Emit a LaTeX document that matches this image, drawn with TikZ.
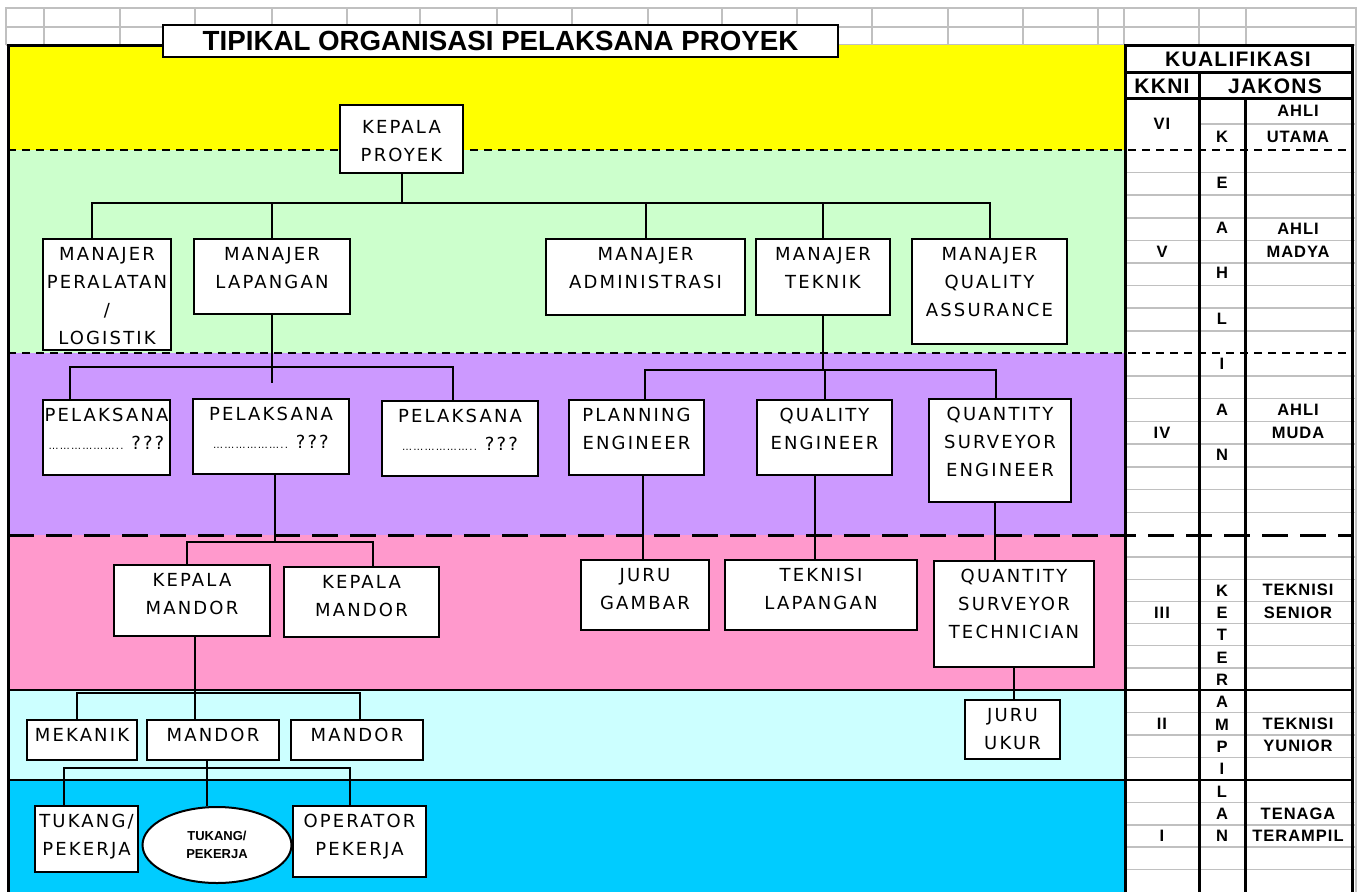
\documentclass[tikz,border=0pt]{standalone}
\usepackage{fontspec}
\setmainfont{DejaVu Sans}
\newfontfamily\orgfont[LetterSpace=12]{DejaVu Sans}
\newfontfamily\headfont{Liberation Sans}
\newfontfamily\tabfont[LetterSpace=6]{Liberation Sans}
\usetikzlibrary{shapes.geometric, calc}
\definecolor{bandyellow}{HTML}{FFFF00}
\definecolor{bandgreen}{HTML}{CCFFCC}
\definecolor{bandpurple}{HTML}{CC99FF}
\definecolor{bandpink}{HTML}{FF99CC}
\definecolor{bandcyan}{HTML}{CCFFFF}
\definecolor{bandblue}{HTML}{00CCFF}
\definecolor{gridgray}{HTML}{C0C0C0}
% box text: width, height, optional first baseline
\newcommand{\orgtext}[4][21]{\parbox[c][#3pt][t]{#2pt}{\centering\rule{0pt}{#1pt}#4}}
\newcommand{\pelakdots}{{\fontsize{10}{10}\selectfont ………………..}}
\tikzset{
  unit/.style={draw, line width=2pt, fill=white, inner sep=0pt, font=\orgfont\fontsize{18}{28}\selectfont},
  link/.style={line width=2pt},
  gridline/.style={gridgray, line width=1.5pt},
  tabline/.style={line width=3pt},
  levelsep/.style={line width=2pt, dash pattern=on 8pt off 6pt},
  tabtext/.style={font=\tabfont\bfseries\fontsize{16.5}{22.5}\selectfont, align=center, inner sep=0pt},
  tabhead/.style={font=\tabfont\bfseries\fontsize{21}{21}\selectfont, inner sep=0pt},
}

\begin{document}
\begin{tikzpicture}[x=1pt, y=-1pt]
        \useasboundingbox (0,0) rectangle (1360,892);
        % spreadsheet grid
        \foreach \x in {44,120,195,272,347,420,497,572,648,722,797,872,948,1023,1098,1124,1199,1246}
          \draw[gridline] (\x,8) -- (\x,45);
        \draw[gridline] (6,27) -- (1356,27);
        \draw[gridline] (6,45) -- (1356,45);
        \draw[gridline] (6,45) -- (6,8) -- (1356,8) -- (1356,892);
        % level bands
        \fill[bandyellow] (8,45) rectangle (1125,150);
        \fill[bandgreen] (8,150) rectangle (1125,353);
        \fill[bandpurple] (8,353) rectangle (1125,535);
        \fill[bandpink] (8,535) rectangle (1125,690);
        \fill[bandcyan] (8,690) rectangle (1125,780);
        \fill[bandblue] (8,780) rectangle (1125,892);
        % table rows
        \draw[gridline] (1199,124) -- (1356,124);
        \foreach \k in {1,...,8} \draw[gridline] (1125,{150+22.6*\k}) -- (1356,{150+22.6*\k});
        \foreach \k in {1,...,7} \draw[gridline] (1125,{353+22.75*\k}) -- (1356,{353+22.75*\k});
        \foreach \k in {1,...,6} \draw[gridline] (1125,{535+22.14*\k}) -- (1356,{535+22.14*\k});
        \foreach \k in {1,...,3} \draw[gridline] (1125,{690+22.5*\k}) -- (1356,{690+22.5*\k});
        \foreach \k in {1,...,4} \draw[gridline] (1125,{780+22.4*\k}) -- (1356,{780+22.4*\k});
        % level borders
        \draw[levelsep] (8,150) -- (1352,150);
        \draw[levelsep] (8,353) -- (1352,353);
        \draw[line width=3pt, dash pattern=on 26pt off 12pt] (8,535) -- (1352,535);
        \draw[line width=1.5pt] (8,690) -- (1352,690);
        \draw[line width=1.5pt] (8,780) -- (1352,780);
        \draw[tabline] (163,45) -- (8,45) -- (8,892);
        % table frame
        \draw[tabline] (1125,892) -- (1125,45) -- (1352,45) -- (1352,892);
        \draw[tabline] (1125,72) -- (1352,72);
        \draw[tabline] (1125,98) -- (1352,98);
        \draw[tabline] (1199,72) -- (1199,892);
        \draw[tabline] (1245,98) -- (1245,892);
        % table texts
        \node[tabhead] (kualifikasi) at (1238,59) {KUALIFIKASI};
        \node[tabhead] (kkni) at (1162,86) {KKNI};
        \node[tabhead] (jakons) at (1275,86) {JAKONS};
        \foreach \c [count=\i] in {K,E,A,H,L,I,A,N}
          \node[tabtext] (keahlian-\i) at (1222,{137+45.4*(\i-1)}) {\c};
        \foreach \c [count=\i] in {K,E,T,E,R,A,M,P,I,L,A,N}
          \node[tabtext] (keterampilan-\i) at (1222,{590.4+22.33*(\i-1)}) {\c};
        \node[tabtext] (kkni-6) at (1162,124) {VI};
        \node[tabtext] (kkni-5) at (1162,251.7) {V};
        \node[tabtext] (kkni-4) at (1162,432.6) {IV};
        \node[tabtext] (kkni-3) at (1162,612.5) {III};
        \node[tabtext] (kkni-2) at (1162,723.8) {II};
        \node[tabtext] (kkni-1) at (1162,836) {I};
        \node[tabtext] (jakons-6) at (1298,124) {AHLI\\[3pt]UTAMA};
        \node[tabtext] (jakons-5) at (1298,240.4) {AHLI\\MADYA};
        \node[tabtext] (jakons-4) at (1298,421.3) {AHLI\\MUDA};
        \node[tabtext] (jakons-3) at (1298,601.5) {TEKNISI\\SENIOR};
        \node[tabtext] (jakons-2) at (1298,735) {TEKNISI\\YUNIOR};
        \node[tabtext] (jakons-1) at (1298,824.8) {TENAGA\\TERAMPIL};
        % title
        \node[draw, line width=2pt, fill=white, minimum width=675, minimum height=32, inner sep=0pt,
              font=\headfont\bfseries\fontsize{27.7}{28}\selectfont] (judul) at (500.5,41) {TIPIKAL ORGANISASI PELAKSANA PROYEK};
        % organisation
        \node[unit] (kp) at (401.5,139) {\orgtext[28]{123}{68}{KEPALA\\PROYEK}};
        \node[unit] (mpl) at (107,294.5) {\orgtext{128}{111}{MANAJER\\PERALATAN\\/\\LOGISTIK}};
        \node[unit] (mlp) at (272,276.5) {\orgtext{156}{75}{MANAJER\\LAPANGAN}};
        \node[unit] (mad) at (645.5,277) {\orgtext{199}{76}{MANAJER\\ADMINISTRASI}};
        \node[unit] (mtk) at (823,277) {\orgtext{134}{76}{MANAJER\\TEKNIK}};
        \node[unit] (mqa) at (989.5,291.5) {\orgtext{155}{105}{MANAJER\\QUALITY\\ASSURANCE}};
        \node[unit] (pl1) at (106.5,437.5) {\orgtext{127}{75}{PELAKSANA\\\pelakdots\ ???}};
        \node[unit] (pl2) at (271,436.5) {\orgtext{156}{75}{PELAKSANA\\\pelakdots\ ???}};
        \node[unit] (pl3) at (460,438.5) {\orgtext{156}{75}{PELAKSANA\\\pelakdots\ ???}};
        \node[unit] (pe) at (636.5,437.5) {\orgtext{135}{75}{PLANNING\\ENGINEER}};
        \node[unit] (qe) at (824.5,437.5) {\orgtext{135}{75}{QUALITY\\ENGINEER}};
        \node[unit] (qse) at (1000,450.5) {\orgtext{142}{103}{QUANTITY\\SURVEYOR\\ENGINEER}};
        \node[unit] (km1) at (192,600.5) {\orgtext{156}{71}{KEPALA\\MANDOR}};
        \node[unit] (km2) at (361.5,602) {\orgtext{155}{70}{KEPALA\\MANDOR}};
        \node[unit] (jg) at (645,595) {\orgtext{128}{70}{JURU\\GAMBAR}};
        \node[unit] (tl) at (821,595) {\orgtext{192}{70}{TEKNISI\\LAPANGAN}};
        \node[unit] (qst) at (1014,614) {\orgtext{160}{106}{QUANTITY\\SURVEYOR\\TECHNICIAN}};
        \node[unit] (mk) at (82,740) {\orgtext{110}{40}{MEKANIK}};
        \node[unit] (md1) at (213,740) {\orgtext{132}{40}{MANDOR}};
        \node[unit] (md2) at (357,740) {\orgtext{132}{40}{MANDOR}};
        \node[unit] (ju) at (1012.5,729.5) {\orgtext{95}{59}{JURU\\UKUR}};
        \node[unit] (tk) at (86.5,839) {\orgtext{103}{66}{TUKANG/\\PEKERJA}};
        \node[draw, line width=2pt, fill=white, ellipse, minimum width=149, minimum height=76, inner sep=0pt, align=center,
              font=\headfont\bfseries\fontsize{13}{18}\selectfont] (el) at (217,845) {TUKANG/\\PEKERJA};
        \node[unit] (op) at (359.5,841.5) {\orgtext{133}{71}{OPERATOR\\PEKERJA}};
        % connectors
        \draw[link] (kp.south) -- ++(0,29) coordinate (busA);
        \draw[link] (busA) -| ([xshift=-15pt]mpl.north);
        \foreach \n in {mlp,mad,mtk,mqa} \draw[link] (busA) -| (\n.north);
        \draw[link] (mlp.south) -- ++(0,68);
        \draw[link] ([xshift=-37pt]pl1.north) -- ++(0,-32) -| ([xshift=-7pt]pl3.north);
        \draw[link] (mtk.south) -- ++(0,54) coordinate (busB);
        \draw[link] (busB) -| ([xshift=8pt]pe.north);
        \draw[link] (busB) -| (qe.north);
        \draw[link] (busB) -| ([xshift=-4pt]qse.north);
        \draw[link] ([xshift=6pt]pe.south) -- ([xshift=6pt]pe.south |- jg.north);
        \draw[link] ([xshift=-10pt]qe.south) -- ([xshift=-10pt]qe.south |- tl.north);
        \draw[link] ([xshift=-5pt]qse.south) -- ([xshift=-5pt]qse.south |- qst.north);
        \draw[link] (qst.south) -- (qst.south |- ju.north);
        \draw[link] ([xshift=4pt]pl2.south) -- ++(0,67) coordinate (busC);
        \draw[link] (busC) -| ([xshift=-5pt]km1.north);
        \draw[link] (busC) -| ([xshift=11pt]km2.north);
        \draw[link] ([xshift=3pt]km1.south) -- ([xshift=3pt]km1.south |- md1.north);
        \draw[link] ([xshift=-5pt]mk.north) -- ++(0,-26) -| ([xshift=3pt]md2.north);
        \draw[link] ([xshift=-6pt]md1.south) -- ([xshift=-6pt]md1.south |- el.north);
        \draw[link] ([xshift=-23pt]tk.north) -- ++(0,-37) -| ([xshift=-10pt]op.north);
      \end{tikzpicture}
\end{document}
